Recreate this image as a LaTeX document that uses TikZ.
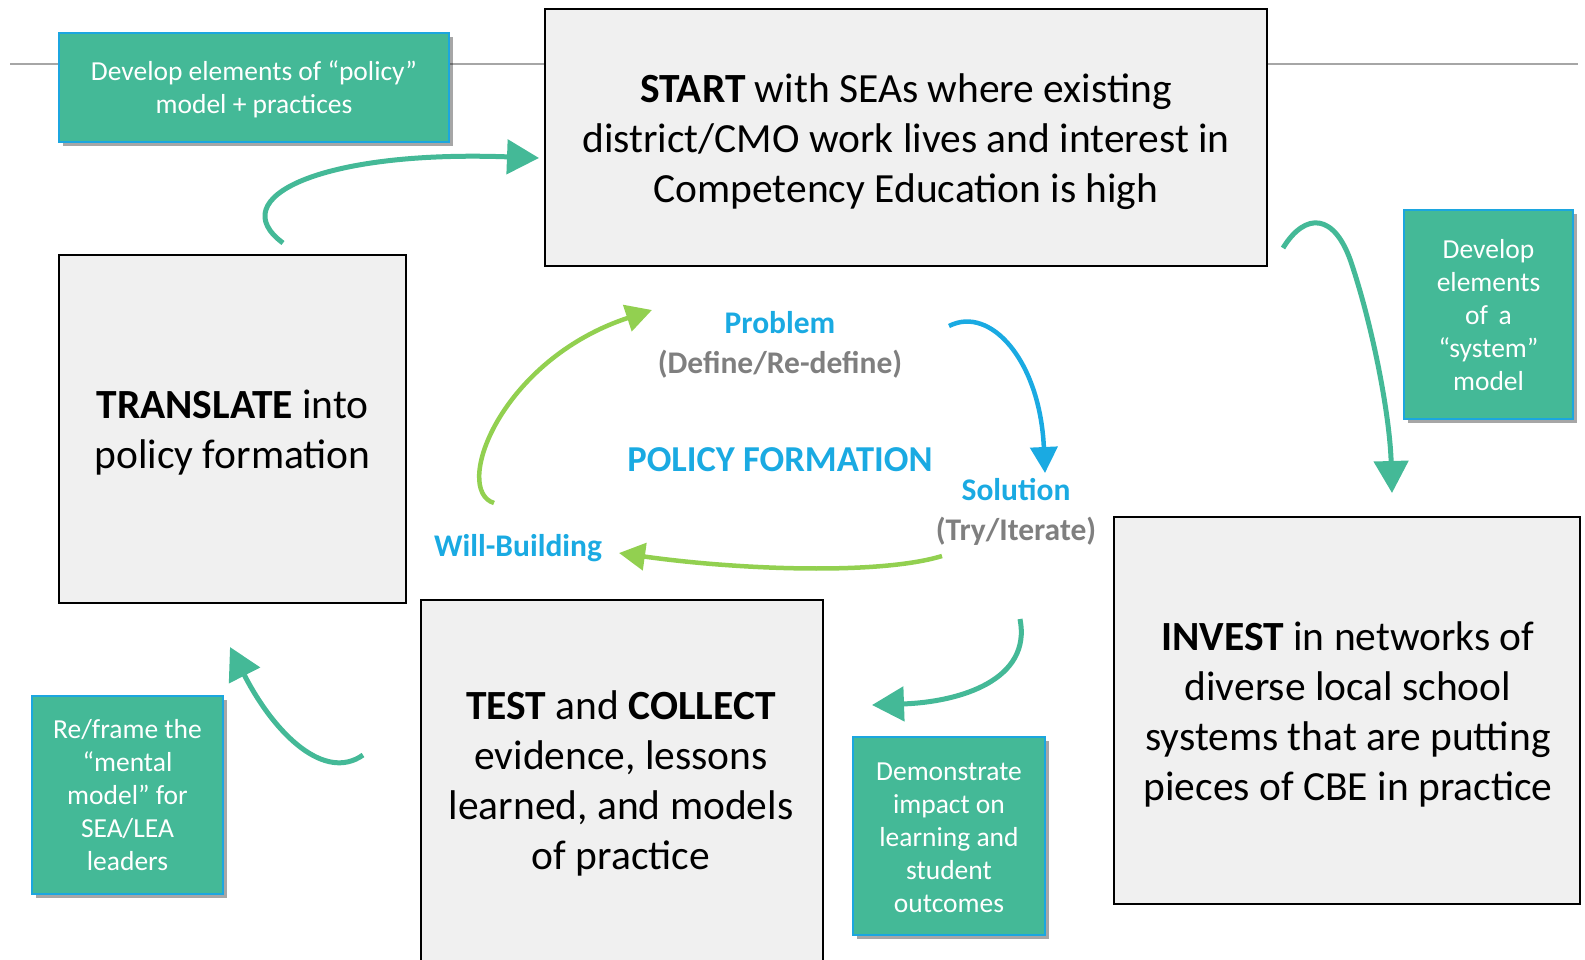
\documentclass[tikz,border=0pt]{standalone}
\usepackage{fontspec}
\setmainfont{Carlito}
\usetikzlibrary{arrows.meta,shadows}
\definecolor{tealc}{HTML}{44B997}
\definecolor{bordblue}{HTML}{1CA6DF}
\definecolor{lblue}{HTML}{1AAAE2}
\definecolor{lgreen}{HTML}{92D050}
\definecolor{gtext}{HTML}{7F7F7F}
\definecolor{boxfill}{HTML}{F0F0F0}
\definecolor{rulegray}{HTML}{A6A6A6}
\begin{document}
\begin{tikzpicture}[x=1pt,y=-1pt,
  mainbox/.style={draw=black, line width=2.5pt, fill=boxfill, inner sep=0pt},
  maintext/.style={align=center, inner sep=0pt, font=\fontsize{41.5}{50}\selectfont},
  greenbox/.style={draw=bordblue, line width=2pt, fill=tealc, inner sep=0pt,
    drop shadow={shadow xshift=4pt, shadow yshift=-4pt, fill=black, opacity=0.35}},
  greentext/.style={text=white, align=center, inner sep=0pt, font=\fontsize{27.5}{33}\selectfont},
  tealarrow/.style={draw=tealc, line width=5pt, -{Triangle[length=32pt,width=34pt]}},
  greenarrow/.style={draw=lgreen, line width=4.5pt, -{Triangle[length=26pt,width=27pt]}},
  bluearrow/.style={draw=lblue, line width=4.5pt, -{Triangle[length=26pt,width=27pt]}},
  bluelbl/.style={text=lblue, inner sep=0pt, anchor=base, font=\bfseries\fontsize{31.5}{38}\selectfont},
  graylbl/.style={text=gtext, inner sep=0pt, anchor=base, font=\bfseries\fontsize{31.5}{38}\selectfont}
]
\useasboundingbox (0,0) rectangle (1585,959);
\clip (0,0) rectangle (1585,959);

% header rule
\coordinate (rl) at (10,64);
\coordinate (rr) at (1578,64);
\draw[rulegray, line width=2pt] (rl) -- (rr);

% main boxes
\node[mainbox, minimum width=722, minimum height=257] (start) at (906,137.5) {};
\node[maintext] (starttxt) at (906,141.5)
  {\textbf{START} with SEAs where existing\\district/CMO work lives and interest in\\Competency Education is high};
\node[mainbox, minimum width=347, minimum height=348] (translate) at (232.5,429) {};
\node[maintext] (translatetxt) at (232.5,432.5)
  {\textbf{TRANSLATE} into\\policy formation};
\node[mainbox, minimum width=402, minimum height=362] (test) at (622,781) {};
\node[maintext] (testtxt) at (621,783.5)
  {\textbf{TEST} and \textbf{COLLECT}\\evidence, lessons\\learned, and models\\of practice};
\node[mainbox, minimum width=466, minimum height=387] (invest) at (1347,710.5) {};
\node[maintext] (investtxt) at (1348,714)
  {\textbf{INVEST} in networks of\\diverse local school\\systems that are putting\\pieces of CBE in practice};

% green boxes
\node[greenbox, minimum width=390, minimum height=109] (g1) at (254,87.5) {};
\node[greentext] (g1txt) at (254,89.5) {Develop elements of “policy”\\model + practices};
\node[greenbox, minimum width=169, minimum height=209] (g2) at (1488.5,314.5) {};
\node[greentext] (g2txt) at (1488.5,315.5) {Develop\\elements\\of\, a\\“system”\\model};
\node[greenbox, minimum width=191, minimum height=198] (g3) at (127.5,795) {};
\node[greentext] (g3txt) at (127.5,795.5) {Re/frame the\\“mental\\model” for\\SEA/LEA\\leaders};
\node[greenbox, minimum width=192, minimum height=198] (g4) at (949,836) {};
\node[greentext] (g4txt) at (949,837.5) {Demonstrate\\impact on\\learning and\\student\\outcomes};

% teal arrows
\coordinate (a1s) at (283,243);
\coordinate (a1e) at (539,158);
\draw[tealarrow] (a1s) .. controls (222,198) and (320,150) .. (a1e);
\coordinate (a2s) at (1283,248);
\coordinate (a2m) at (1352,265);
\coordinate (a2e) at (1392,493);
\draw[tealarrow] (a2s) .. controls (1305,212) and (1335,212) .. (a2m) .. controls (1375,335) and (1390,420) .. (a2e);
\coordinate (a3s) at (363,755);
\coordinate (a3e) at (230,647);
\draw[tealarrow] (a3s) .. controls (325,782) and (275,735) .. (a3e);
\coordinate (a4s) at (1020,619);
\coordinate (a4e) at (872,705);
\draw[tealarrow] (a4s) .. controls (1032,680) and (960,702) .. (a4e);

% policy formation cycle labels
\node[bluelbl] (prob) at (780,333) {Problem};
\node[graylbl] (probsub) at (780,373) {(Define/Re-define)};
\node[bluelbl, font=\bfseries\fontsize{36.5}{42}\selectfont] (pf) at (780,471.5) {POLICY FORMATION};
\node[bluelbl] (sol) at (1016,500) {Solution};
\node[graylbl] (solsub) at (1016,540) {(Try/Iterate)};
\node[bluelbl] (will) at (518,556) {Will-Building};

% cycle arrows
\coordinate (c1s) at (949,326);
\coordinate (c1e) at (1045,473);
\draw[bluearrow] (c1s) .. controls (990,305) and (1040,360) .. (c1e);
\coordinate (c2s) at (942,556);
\coordinate (c2e) at (619,553);
\draw[greenarrow] (c2s) .. controls (880,575) and (740,570) .. (c2e);
\coordinate (c3s) at (494,503);
\coordinate (c3e) at (652,310);
\draw[greenarrow] (c3s) .. controls (452,490) and (500,360) .. (c3e);
\end{tikzpicture}
\end{document}
